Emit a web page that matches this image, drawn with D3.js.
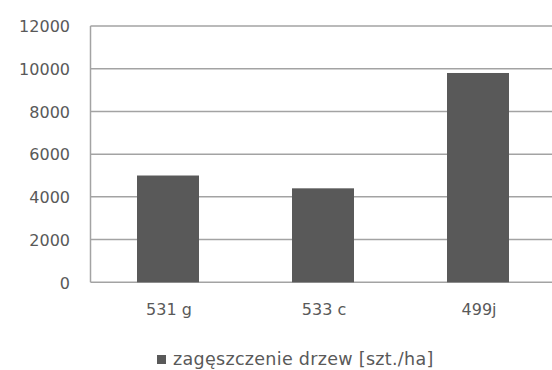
<!DOCTYPE html>
<html>
<head>
<meta charset="utf-8">
<script src="https://cdn.jsdelivr.net/npm/d3@7"></script>
<style>
  html, body { margin: 0; padding: 0; background: #fff; }
  svg { display: block; }
  text { font-family: "DejaVu Sans", sans-serif; fill: #595959; }
</style>
</head>
<body>
<svg id="chart" width="552" height="370"></svg>
<script>
// Tree density per plot
const categories = ["531 g", "533 c", "499j"];
const values = [5000, 4400, 9800];
const yTicks = [0, 2000, 4000, 6000, 8000, 10000, 12000];
const seriesName = "zagęszczenie drzew [szt./ha]";

const svg = d3.select("#chart");
const plotLeft = 90.5, plotRight = 555.5, plotTop = 26, plotBottom = 282.3;

const x = d3.scaleBand().domain(categories).range([plotLeft, plotRight])
  .paddingInner(0.6).paddingOuter(0.3);
const y = d3.scaleLinear().domain([0, 12000]).range([plotBottom, plotTop]);

// horizontal gridlines
svg.append("g").selectAll("line").data(yTicks).join("line")
  .attr("x1", plotLeft).attr("x2", plotRight)
  .attr("y1", d => y(d)).attr("y2", d => y(d))
  .attr("stroke", "#a3a3a3").attr("stroke-width", 1.5);

// left axis line
svg.append("line").attr("x1", plotLeft).attr("x2", plotLeft)
  .attr("y1", plotTop).attr("y2", plotBottom)
  .attr("stroke", "#a3a3a3").attr("stroke-width", 1.5);

// y tick labels
const yAxis = d3.axisLeft(y).tickValues(yTicks).tickSize(0).tickPadding(0)
  .tickFormat(d3.format("d"));
const gy = svg.append("g").attr("transform", `translate(70,0)`).call(yAxis);
gy.select(".domain").remove();
gy.selectAll("text").style("font-size", "16px").attr("dy", "0.36em")
  .attr("font-family", null).attr("fill", "#595959");

// bars
svg.append("g").selectAll("rect").data(values).join("rect")
  .attr("x", (d, i) => x(categories[i]))
  .attr("width", x.bandwidth())
  .attr("y", d => y(d))
  .attr("height", d => y(0) - y(d))
  .attr("fill", "#595959");

// x category labels
const xAxis = d3.axisBottom(x).tickSize(0).tickPadding(0);
const gx = svg.append("g").attr("transform", `translate(1,${plotBottom + 21})`).call(xAxis);
gx.select(".domain").remove();
gx.selectAll("text").style("font-size", "16px").attr("dy", "0.71em")
  .attr("font-family", null).attr("fill", "#595959");

// legend
const lg = svg.append("g").attr("transform", "translate(157,365)");
lg.append("rect").attr("x", 0).attr("y", -10).attr("width", 9).attr("height", 9)
  .attr("fill", "#595959");
lg.append("text").attr("x", 16).attr("y", 0)
  .style("font-size", "17.5px").style("letter-spacing", "0.3px").text(seriesName);
</script>
</body>
</html>
